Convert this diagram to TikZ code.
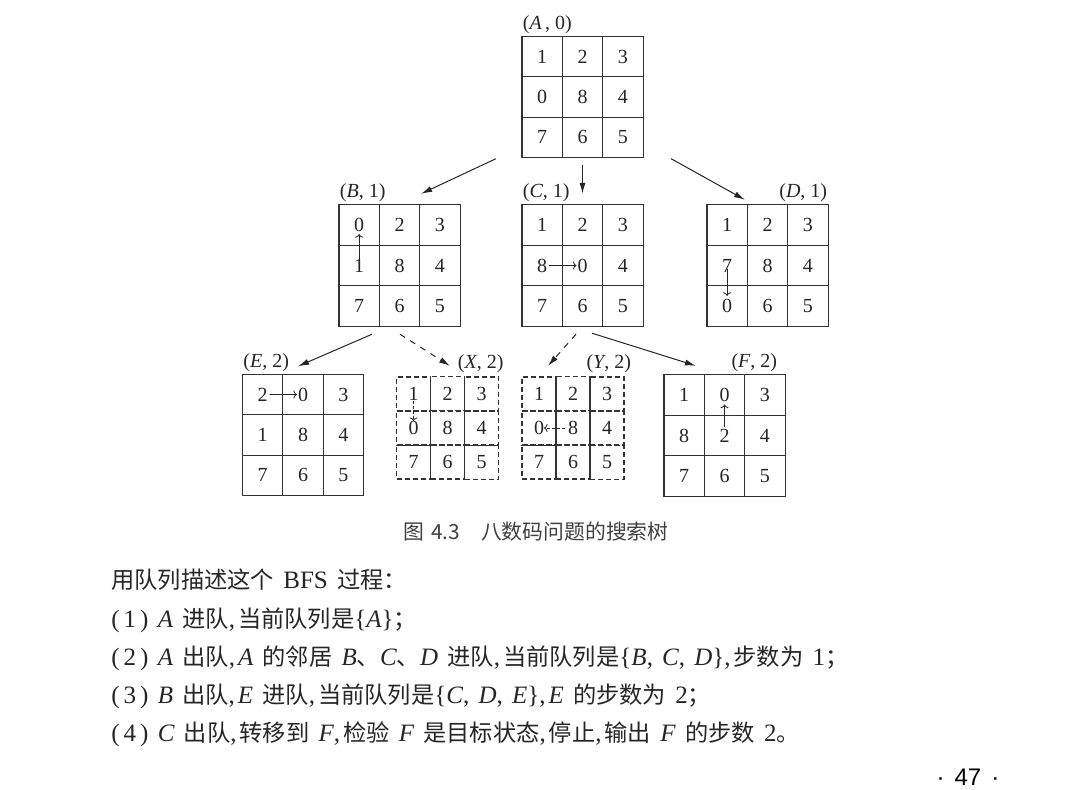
\documentclass[tikz,border=0pt]{standalone}
\usepackage{fontspec}
\setmainfont{Liberation Serif}
\newfontfamily\cjk{Noto Sans CJK SC}[Scale=0.93]
\newfontfamily\pagefont{Liberation Sans}
\newcommand\zh[1]{{\cjk #1}}
\newcommand\no[1]{(\kern2pt#1\kern2pt)}
\usetikzlibrary{matrix,arrows.meta}
\tikzset{
  cell/.style={draw=black!80, line width=0.6pt, minimum size=20.2pt, inner sep=0pt,
    text=black!85, font=\fontsize{10pt}{10pt}\selectfont},
  dcell/.style={cell, dash pattern=on 2.5pt off 1.5pt, minimum size=17pt},
  puzzle/.style={matrix of nodes, nodes={cell}, inner sep=0pt, column sep=-0.6pt, row sep=-0.6pt},
  dpuzzle/.style={matrix of nodes, nodes={dcell}, inner sep=0pt, column sep=-0.6pt, row sep=-0.6pt},
  state/.style={inner sep=0.8pt, text=black!85, font=\fontsize{10pt}{10pt}\selectfont},
  tree/.style={-{Latex[length=5.5pt,width=3pt]}, line width=0.5pt, black!85},
  move/.style={-{To[length=1.8pt,width=4pt]}, line width=0.4pt, black!85},
  textline/.style={anchor=base west, inner sep=0pt, text=black!85,
    font={\fontsize{12.5pt}{15pt}\selectfont\spaceskip=4.6pt plus 1pt minus 1pt}}
}
\begin{document}
\begin{tikzpicture}[x=0.5pt,y=0.5pt]
\fill[white] (0,0) rectangle (1080,789);
\useasboundingbox (0,0) rectangle (1080,789);

% start state
\matrix (A) [puzzle] at (582.5,692) {1 & 2 & 3 \\ 0 & 8 & 4 \\ 7 & 6 & 5 \\};
\node[state, anchor=south west] (A-lab) at (A.north west) {(\textit{A}\,, 0)};

% first level
\matrix (B) [puzzle] at (399.5,523.5) {0 & 2 & 3 \\ 1 & 8 & 4 \\ 7 & 6 & 5 \\};
\matrix (C) [puzzle] at (582.5,523.5) {1 & 2 & 3 \\ 8 & 0 & 4 \\ 7 & 6 & 5 \\};
\matrix (D) [puzzle] at (767.5,523.5) {1 & 2 & 3 \\ 7 & 8 & 4 \\ 0 & 6 & 5 \\};
\node[state, anchor=south west] (B-lab) at (B.north west) {(\textit{B}, 1)};
\node[state, anchor=south west] (C-lab) at (C.north west) {(\textit{C}, 1)};
\node[state, anchor=south east] (D-lab) at (D.north east) {(\textit{D}, 1)};

% second level
\matrix (E) [puzzle] at (303,354) {2 & 0 & 3 \\ 1 & 8 & 4 \\ 7 & 6 & 5 \\};
\matrix (X) [dpuzzle] at (447.5,361) {1 & 2 & 3 \\ 0 & 8 & 4 \\ 7 & 6 & 5 \\};
\matrix (Y) [dpuzzle] at (573,361) {1 & 2 & 3 \\ 0 & 8 & 4 \\ 7 & 6 & 5 \\};
\matrix (F) [puzzle] at (724.5,353.5) {1 & 0 & 3 \\ 8 & 2 & 4 \\ 7 & 6 & 5 \\};
\draw[black!80, line width=0.6pt] (X-2-1.south west) -- (X-2-1.south east)
  (X-2-3.south west) -- (X-2-3.south east) (Y-2-1.south west) -- (Y-2-1.south east);
\node[state, anchor=south west] (E-lab) at (E.north west) {(\textit{E}, 2)};
\node[state, anchor=south east] (X-lab) at ([shift={(6,1)}]X.north east) {(\textit{X}, 2)};
\node[state, anchor=south east] (Y-lab) at ([shift={(8,1)}]Y.north east) {(\textit{Y}, 2)};
\node[state, anchor=south east] (F-lab) at ([xshift=-3.5pt]F.north east) {(\textit{F}, 2)};

% tree edges
\draw[tree] ([shift={(-25,0)}]A.south west) -- ([shift={(-40,10)}]B.north east);
\draw[tree] ([shift={(0,-6)}]A.south) -- ([shift={(0,10)}]C.north);
\draw[tree] ([shift={(27,0)}]A.south east) -- ([shift={(39,4)}]D.north west);
\draw[tree] ([shift={(-27.5,-7)}]B.south) -- ([shift={(-5,7)}]E.north);
\draw[tree, dashed] ([shift={(0.5,-7)}]B.south) -- ([shift={(2.5,10)}]X.north);
\draw[tree, dashed] ([shift={(-6.5,-7)}]C.south) -- ([shift={(-25,10)}]Y.north);
\draw[tree] ([shift={(9.5,-6)}]C.south) -- ([shift={(33,8)}]F.north west);

% moves of the blank
\draw[move] ([yshift=-3pt]B-2-1.center) -- ([yshift=-4.5pt]B-1-1.center);
\draw[move] ([xshift=3.5pt]C-2-1.center) -- ([xshift=-3pt]C-2-2.center);
\draw[move] ([yshift=-1.5pt]D-2-1.center) -- ([yshift=5pt]D-3-1.center);
\draw[move] ([xshift=3.5pt]E-1-1.center) -- ([xshift=-3pt]E-1-2.center);
\draw[move, dash pattern=on 1.5pt off 1pt] ([yshift=-1pt]X-1-1.center) -- ([yshift=3.5pt]X-2-1.center);
\draw[move, dash pattern=on 1.5pt off 1pt] ([xshift=-4pt]Y-2-2.center) -- ([xshift=2.5pt]Y-2-1.center);
\draw[move] ([yshift=4.25pt]F-2-2.center) -- ([yshift=-4.75pt]F-1-2.center);

% caption
\node[inner sep=0pt, text=black!75, font=\fontsize{11.2pt}{13pt}\selectfont] (caption) at (536,257)
  {\zh{图\hspace{3.5pt}4.3\hspace{1em}八数码问题的搜索树}};

% text below the figure
\node[textline] (intro) at (111,200.5) {\zh{用队列描述这个} BFS \zh{过程：}};
\node[textline] (step1) at (111,161.5) {\no{1} \textit{A} \zh{进队},\kern1.5pt\zh{当前队列是}\{\textit{A}\}\zh{；}};
\node[textline] (step2) at (111,123.5) {\no{2} \textit{A} \zh{出队},\kern1.5pt\textit{A} \zh{的邻居} \textit{B}\zh{、}\textit{C}\zh{、}\textit{D} \zh{进队},\kern1.5pt\zh{当前队列是}\{\textit{B}, \textit{C}, \textit{D}\},\kern1.5pt\zh{步数为} 1\zh{；}};
\node[textline] (step3) at (111,85.5) {\no{3} \textit{B} \zh{出队},\kern1.5pt\textit{E} \zh{进队},\kern1.5pt\zh{当前队列是}\{\textit{C}, \textit{D}, \textit{E}\},\kern1.5pt\textit{E} \zh{的步数为} 2\zh{；}};
\node[textline] (step4) at (111,47.5) {\no{4} \textit{C} \zh{出队},\kern1.5pt\zh{转移到} \textit{F},\kern1.5pt\zh{检验} \textit{F} \zh{是目标状态},\kern1.5pt\zh{停止},\kern1.5pt\zh{输出} \textit{F} \zh{的步数} 2\zh{。}};

% page number
\node[inner sep=0pt, font=\pagefont\fontsize{12pt}{14pt}\selectfont] (page) at (968,12) {·\hspace{5pt}47\hspace{5pt}·};
\end{tikzpicture}
\end{document}
